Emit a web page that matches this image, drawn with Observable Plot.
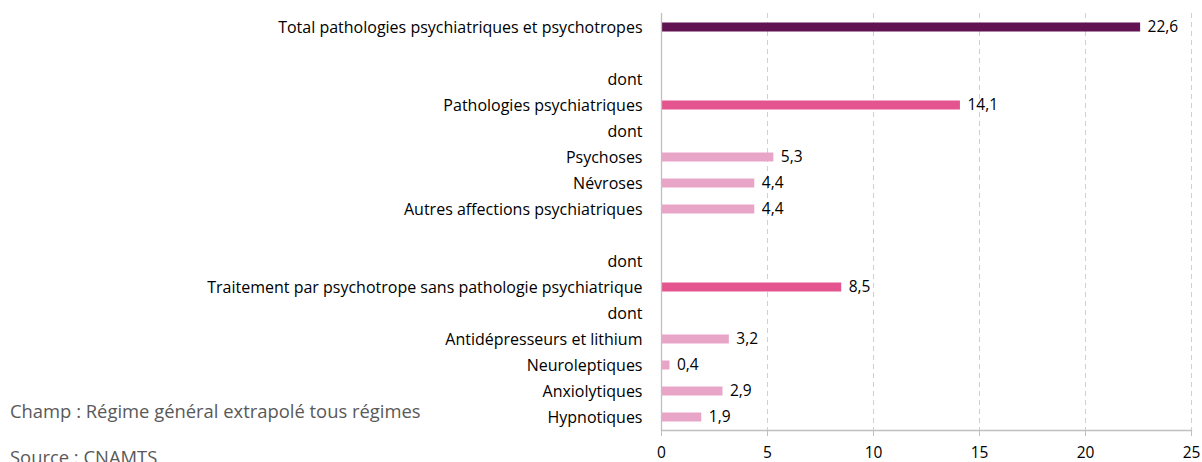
<!DOCTYPE html>
<html><head><meta charset="utf-8">
<script src="https://cdn.jsdelivr.net/npm/d3@7"></script>
<script src="https://cdn.jsdelivr.net/npm/@observablehq/plot@0.6"></script>
<style>
html,body{margin:0;padding:0;background:#fff;overflow:hidden;width:1202px;height:462px;}
#wrap{position:relative;width:1202px;height:462px;}
.note{position:absolute;left:10px;font-family:"Open Sans",Lato,sans-serif;font-size:18.4px;color:#595959;white-space:nowrap;}
</style></head>
<body><div id="wrap"></div>
<script>
const categories = ["Total pathologies psychiatriques et psychotropes", "", "dont", "Pathologies psychiatriques", "dont", "Psychoses", "Névroses", "Autres affections psychiatriques", "", "dont", "Traitement par psychotrope sans pathologie psychiatrique", "dont", "Antidépresseurs et lithium", "Neuroleptiques", "Anxiolytiques", "Hypnotiques"];
const values = [22.6, null, null, 14.1, null, 5.3, 4.4, 4.4, null, null, 8.5, null, 3.2, 0.4, 2.9, 1.9];
const levels = ["total", "", "", "groupe", "", "detail", "detail", "detail", "", "", "groupe", "", "detail", "detail", "detail", "detail"];
const xTicks = [0, 5, 10, 15, 20, 25];
const notes = ["Champ : Régime général extrapolé tous régimes", "Source : CNAMTS"];

const rows = categories.map((c, i) => ({i, label: c, value: values[i], level: levels[i]}));
const bars = rows.filter(d => d.value != null);
const fmt = v => v.toFixed(1).replace(".", ",");

const chart = Plot.plot({
  width: 1202, height: 462,
  marginLeft: 661, marginRight: 11, marginTop: 13, marginBottom: 32,
  style: {fontFamily: "'Open Sans', Lato, sans-serif", fontSize: "16px", color: "#000", background: "#fff"},
  x: {domain: [0, 25], ticks: xTicks, label: null},
  y: {domain: d3.range(categories.length), padding: 0, label: null},
  color: {domain: ["total", "groupe", "detail"], range: ["#621351", "#E4548F", "#E9A5C7"]},
  marks: [
    Plot.ruleX(xTicks.slice(1), {stroke: "#d0d0d0", strokeDasharray: "5,4"}),
    Plot.barX(bars, {y: "i", x: "value", fill: "level", insetTop: 8.5, insetBottom: 8.5}),
    Plot.text(bars, {y: "i", x: "value", text: d => fmt(d.value), textAnchor: "start", dx: 7, fill: "#000", fontSize: 15.5, fontWeight: 500}),
    Plot.ruleX([0], {stroke: "#bfbfbf", strokeWidth: 1.3}),
    Plot.frame({anchor: "bottom", stroke: "#bfbfbf", strokeWidth: 1.3}),
    Plot.axisY({tickSize: 0, tickPadding: 19, tickFormat: i => categories[i], fontSize: 16, fontWeight: 500, fill: "#000"}),
    Plot.axisX({ticks: xTicks, tickSize: 6, tickPadding: 10, stroke: "#bfbfbf", tickFormat: d => String(d), fontSize: 15.5, fontWeight: 500, fill: "#000", label: null})
  ]
});
const wrap = document.getElementById("wrap");
wrap.appendChild(chart);
const n1 = document.createElement("div"); n1.className = "note"; n1.style.top = "398px"; n1.textContent = notes[0]; wrap.appendChild(n1);
const n2 = document.createElement("div"); n2.className = "note"; n2.style.top = "444px"; n2.textContent = notes[1]; wrap.appendChild(n2);
</script></body></html>
